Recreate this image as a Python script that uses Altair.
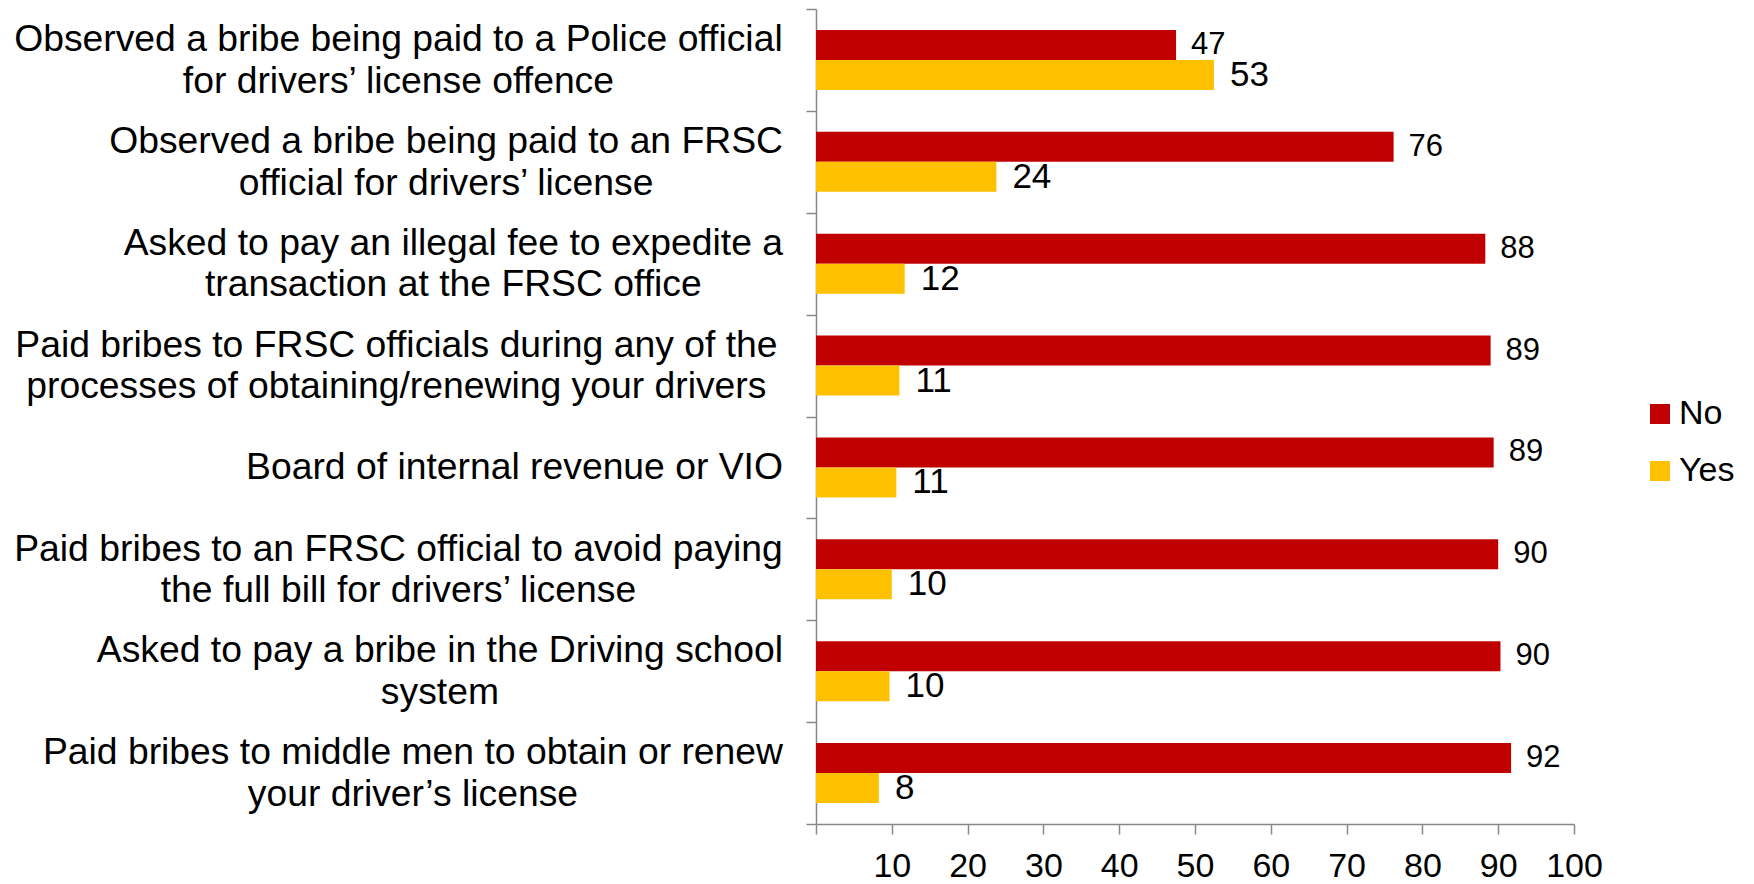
import altair as alt
import pandas as pd

# ---------------- data ----------------
label_lines = [
    ["Observed a bribe being paid to a Police official", "for drivers’ license offence"],
    ["Observed a bribe being paid to an FRSC", "official for drivers’ license"],
    ["Asked to pay an illegal fee to expedite a", "transaction at the FRSC office"],
    ["Paid bribes to FRSC officials during any of the ", "processes of obtaining/renewing your drivers"],
    ["Board of internal revenue or VIO"],
    ["Paid bribes to an FRSC official to avoid paying", "the full bill for drivers’ license"],
    ["Asked to pay a bribe in the Driving school", "system"],
    ["Paid bribes to middle men to obtain or renew", "your driver’s license"],
]
no_values = [47.5, 76.2, 88.3, 89.0, 89.4, 90.0, 90.3, 91.7]
yes_values = [52.5, 23.8, 11.7, 11.0, 10.6, 10.0, 9.7, 8.3]
no_labels = ["47", "76", "88", "89", "89", "90", "90", "92"]
yes_labels = ["53", "24", "12", "11", "11", "10", "10", "8"]
series = ["No", "Yes"]
colors = ["#C00000", "#FFC000"]
x_ticks = [0, 10, 20, 30, 40, 50, 60, 70, 80, 90, 100]

# ---------------- style ----------------
FONT = "Liberation Sans"
PLOT_W = 758
PLOT_H = 815
FS_CAT = 37.3
LINE_H = 41.5
GAP = 33
AXIS_GREY = "#888888"

# Arial / Liberation Sans advance widths (per 1000 em) to centre two-line labels
_w = {" ": 278, "’": 222, "/": 278}
_w.update(dict(zip("abcdefghijklmnopqrstuvwxyz",
                   [556, 556, 500, 556, 556, 278, 556, 556, 222, 222, 500, 222, 833,
                    556, 556, 556, 556, 333, 500, 278, 556, 500, 722, 500, 500, 500])))
_w.update(dict(zip("ABCDEFGHIJKLMNOPQRSTUVWXYZ",
                   [667, 667, 722, 722, 667, 611, 778, 722, 278, 500, 667, 556, 833,
                    722, 778, 667, 778, 722, 667, 611, 722, 667, 944, 667, 667, 611])))


def text_width(s, fs):
    return sum(_w.get(c, 556) for c in s) * fs / 1000.0


keys = ["\n".join(l) for l in label_lines]

rows = []
for k, nv, yv, nl, yl in zip(keys, no_values, yes_values, no_labels, yes_labels):
    rows.append({"cat": k, "series": "No", "value": nv, "label": nl})
    rows.append({"cat": k, "series": "Yes", "value": yv, "label": yl})
df = pd.DataFrame(rows)

cat_df = pd.DataFrame({
    "cat": keys,
    "nlines": [len(l) for l in label_lines],
    "cx": [-(GAP + max(text_width(l, FS_CAT) for l in lines) / 2.0) * 100.0 / PLOT_W
           for lines in label_lines],
})

y_scale = alt.Scale(paddingInner=0, paddingOuter=0)
off_scale = alt.Scale(paddingInner=0, paddingOuter=0.7)
x_scale = alt.Scale(domain=[0, 100], nice=False, clamp=False)

base = alt.Chart(df)

bars = base.mark_bar().encode(
    y=alt.Y("cat:N", sort=keys, scale=y_scale,
            axis=alt.Axis(labels=False, title=None, tickBand="extent", tickSize=10,
                          domainColor=AXIS_GREY, tickColor=AXIS_GREY,
                          domainWidth=1.5, tickWidth=1.5)),
    yOffset=alt.YOffset("series:N", sort=series, scale=off_scale),
    x=alt.X("value:Q", scale=x_scale,
            axis=alt.Axis(values=x_ticks, title=None, grid=False, tickSize=10,
                          labelExpr="datum.value == 0 ? '' : datum.label",
                          labelFont=FONT, labelFontSize=34, labelColor="black",
                          labelPadding=15, domainColor=AXIS_GREY, tickColor=AXIS_GREY,
                          domainWidth=1.5, tickWidth=1.5, labelFlush=False)),
    color=alt.Color("series:N", sort=series,
                    scale=alt.Scale(domain=series, range=colors),
                    legend=alt.Legend(orient="none", legendX=827, legendY=388,
                                      title=None, symbolType="square", symbolSize=400,
                                      symbolStrokeWidth=0, labelFont=FONT,
                                      labelFontSize=34, labelColor="black",
                                      rowPadding=23, labelOffset=2, padding=0)),
)

no_text = base.transform_filter(alt.datum.series == "No").mark_text(
    align="left", baseline="middle", dx=15, font=FONT, fontSize=31, color="black"
).encode(
    y=alt.Y("cat:N", sort=keys),
    yOffset=alt.YOffset("series:N", sort=series),
    x=alt.X("value:Q"),
    text="label:N",
)

yes_text = base.transform_filter(alt.datum.series == "Yes").mark_text(
    align="left", baseline="middle", dx=16, font=FONT, fontSize=35, color="black"
).encode(
    y=alt.Y("cat:N", sort=keys),
    yOffset=alt.YOffset("series:N", sort=series),
    x=alt.X("value:Q"),
    text="label:N",
)

cat_base = alt.Chart(cat_df).encode(
    y=alt.Y("cat:N", sort=keys),
    x=alt.X("cx:Q"),
    text="cat:N",
)

cat_two = cat_base.transform_filter(alt.datum.nlines == 2).mark_text(
    align="center", baseline="middle", font=FONT, fontSize=FS_CAT,
    lineHeight=LINE_H, lineBreak="\n", color="black", dy=-LINE_H / 2.0 + 1
)
cat_one = cat_base.transform_filter(alt.datum.nlines == 1).mark_text(
    align="center", baseline="middle", font=FONT, fontSize=FS_CAT,
    lineHeight=LINE_H, lineBreak="\n", color="black", dy=1
)

chart = alt.layer(bars, no_text, yes_text, cat_two, cat_one).properties(
    width=PLOT_W,
    height=PLOT_H,
    autosize=alt.AutoSizeParams(type="none"),
    padding={"left": 808, "top": 1, "right": 172, "bottom": 60},
).configure_view(stroke=None)

chart.save("out.html", embed_options={"renderer": "svg", "actions": False})
